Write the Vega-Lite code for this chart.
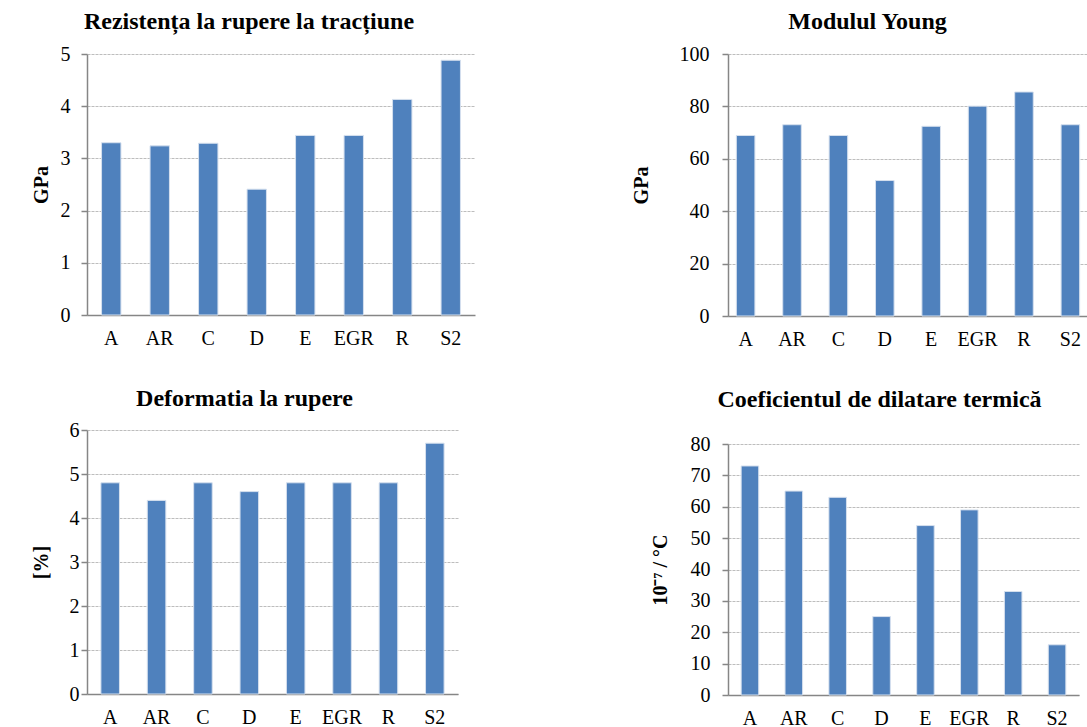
{
  "$schema": "https://vega.github.io/schema/vega-lite/v6.json",
  "padding": {"left": 31, "top": 10, "right": 0, "bottom": 0},
  "background": "white",
  "datasets": {
    "d": [
      {"cat": "A", "rez": 3.30, "young": 68.9, "def": 4.8, "coef": 73},
      {"cat": "AR", "rez": 3.24, "young": 73.0, "def": 4.4, "coef": 65},
      {"cat": "C", "rez": 3.29, "young": 68.9, "def": 4.8, "coef": 63},
      {"cat": "D", "rez": 2.41, "young": 51.7, "def": 4.6, "coef": 25},
      {"cat": "E", "rez": 3.44, "young": 72.4, "def": 4.8, "coef": 54},
      {"cat": "EGR", "rez": 3.44, "young": 80.1, "def": 4.8, "coef": 59},
      {"cat": "R", "rez": 4.13, "young": 85.5, "def": 4.8, "coef": 33},
      {"cat": "S2", "rez": 4.88, "young": 73.0, "def": 5.7, "coef": 16}
    ]
  },
  "spacing": 156,
  "hconcat": [
    {
      "spacing": 39,
      "vconcat": [
        {
          "title": {"text": "Rezistența la rupere la tracțiune", "offset": 10, "dx": -4},
          "width": 388, "height": 261,
          "data": {"name": "d"},
          "mark": "bar",
          "encoding": {
            "x": {"field": "cat", "type": "nominal", "sort": null, "scale": {"paddingInner": 0.6, "paddingOuter": 0.3}},
            "y": {"field": "rez", "type": "quantitative", "scale": {"domain": [0, 5], "nice": false},
                  "axis": {"values": [0, 1, 2, 3, 4, 5], "title": "GPa", "labelPadding": 11, "titlePadding": 9}}
          }
        },
        {
          "title": {"text": "Deformatia la rupere", "offset": 9},
          "width": 371, "height": 264,
          "data": {"name": "d"},
          "mark": "bar",
          "encoding": {
            "x": {"field": "cat", "type": "nominal", "sort": null, "scale": {"paddingInner": 0.6, "paddingOuter": 0.3}},
            "y": {"field": "def", "type": "quantitative", "scale": {"domain": [0, 6], "nice": false},
                  "axis": {"values": [0, 1, 2, 3, 4, 5, 6], "title": "[%]", "labelPadding": 2, "titlePadding": 18}}
          }
        }
      ]
    },
    {
      "spacing": 39,
      "vconcat": [
        {
          "title": {"text": "Modulul Young", "offset": 10, "dx": 8},
          "width": 360, "height": 262,
          "data": {"name": "d"},
          "mark": "bar",
          "encoding": {
            "x": {"field": "cat", "type": "nominal", "sort": null, "scale": {"paddingInner": 0.6, "paddingOuter": 0.18}},
            "y": {"field": "young", "type": "quantitative", "scale": {"domain": [0, 100], "nice": false},
                  "axis": {"values": [0, 20, 40, 60, 80, 100], "title": "GPa", "labelPadding": 13, "titlePadding": 28}}
          }
        },
        {
          "title": {"text": "Coeficientul de dilatare termică", "offset": 22, "dx": 15},
          "width": 351, "height": 251,
          "data": {"name": "d"},
          "mark": "bar",
          "encoding": {
            "x": {"field": "cat", "type": "nominal", "sort": null, "scale": {"paddingInner": 0.6, "paddingOuter": 0.3}},
            "y": {"field": "coef", "type": "quantitative", "scale": {"domain": [0, 80], "nice": false},
                  "axis": {"values": [0, 10, 20, 30, 40, 50, 60, 70, 80], "title": "10⁻⁷  / °C", "labelPadding": 12, "titlePadding": 20}}
          }
        }
      ]
    }
  ],
  "config": {
    "font": "Liberation Serif",
    "view": {"stroke": null},
    "axis": {
      "labelFont": "Liberation Serif", "labelFontSize": 20, "labelColor": "#000000",
      "titleFont": "Liberation Serif", "titleFontSize": 20, "titleFontWeight": "bold", "titleColor": "#000000",
      "domainColor": "#868686", "domainWidth": 1.5,
      "tickColor": "#868686", "tickWidth": 1.5,
      "gridColor": "#bdbdbd", "gridDash": [3, 1], "gridWidth": 1
    },
    "axisX": {"ticks": false, "tickSize": 0, "grid": false, "labelAngle": 0, "labelPadding": 13, "title": null},
    "axisY": {"tickSize": 6, "grid": true},
    "title": {"font": "Liberation Serif", "fontSize": 24, "fontWeight": "bold", "color": "#000000", "anchor": "middle", "frame": "bounds", "baseline": "alphabetic"},
    "bar": {"color": "#4F81BD", "stroke": "#d6e0ee", "strokeWidth": 1}
  }
}
